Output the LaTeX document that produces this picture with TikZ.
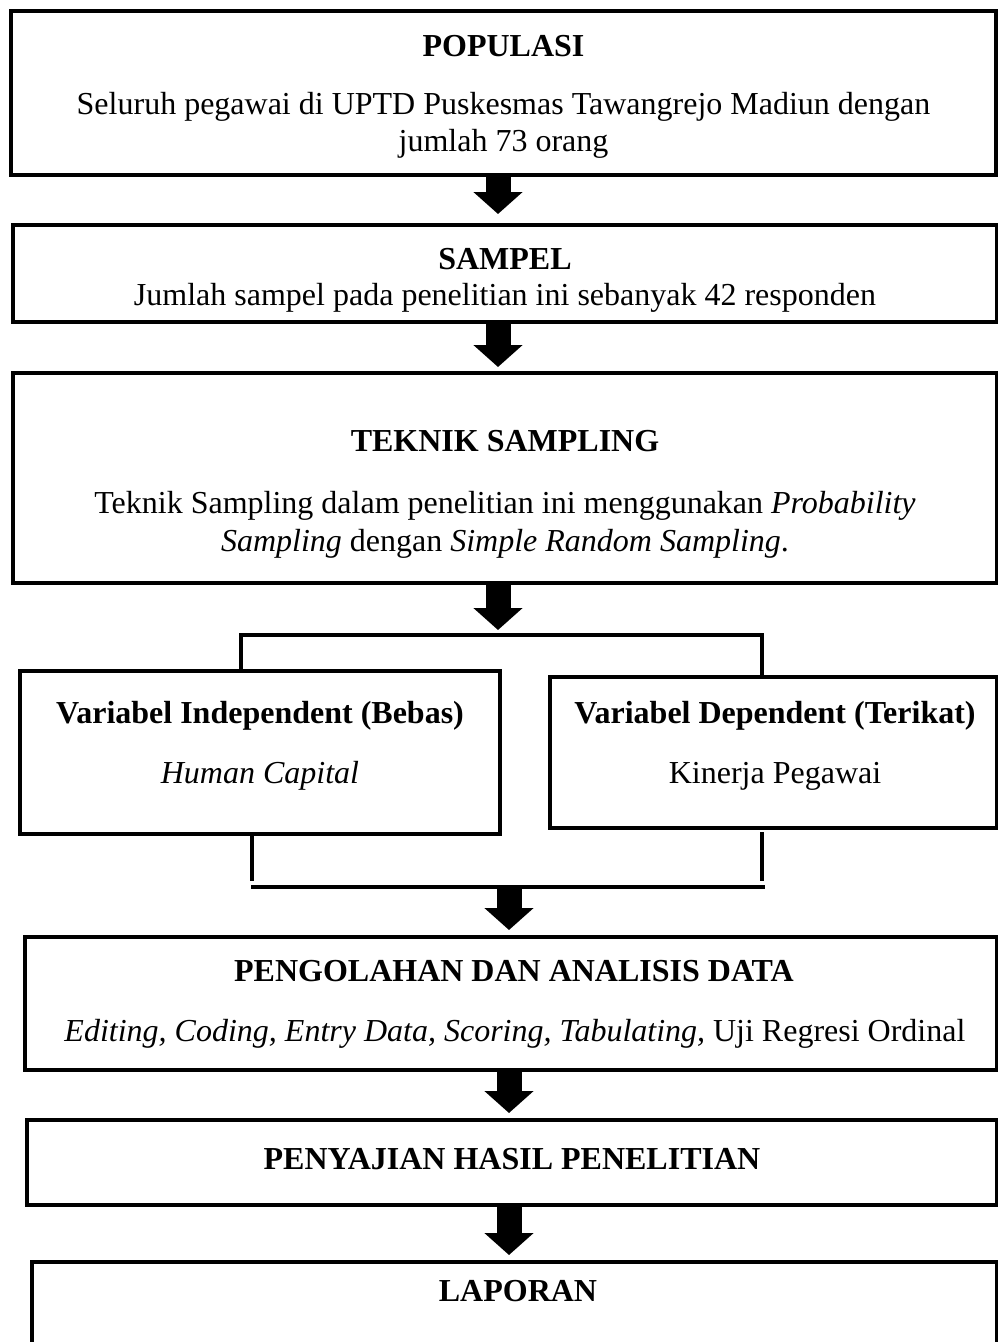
\documentclass[tikz,border=0pt]{standalone}
\usepackage{fontspec}
\setmainfont{Liberation Serif}
\usetikzlibrary{arrows.meta}
\begin{document}
\begin{tikzpicture}[x=1pt,y=-1pt,
  box/.style={draw=black, line width=4pt, inner sep=0pt, outer sep=0pt, fill=none},
  bline/.style={draw=black, line width=3.5pt},
  blockarrow/.style={draw=black, line width=25pt, -{Triangle[width=48pt,length=22pt]}},
  txt/.style={anchor=base, inner sep=0pt, font=\fontsize{32}{37}\selectfont},
  ttl/.style={txt, font=\fontsize{32}{37}\selectfont\bfseries}]
\useasboundingbox (0,0) rectangle (998,1342);
\clip (0,0) rectangle (998,1342);
% boxes
\node[box, minimum width=985pt, minimum height=164pt] (b1) at (503.5,93) {};
\node[box, minimum width=984pt, minimum height=97pt] (b2) at (505,273.5) {};
\node[box, minimum width=984pt, minimum height=210pt] (b3) at (505,478) {};
\node[box, minimum width=480pt, minimum height=163pt] (bl) at (260,752.5) {};
\node[box, minimum width=447pt, minimum height=151pt] (br) at (773.5,752.5) {};
\node[box, minimum width=972pt, minimum height=133pt] (b4) at (511,1003.5) {};
\node[box, minimum width=970pt, minimum height=85pt] (b5) at (512,1162.5) {};
\node[box, minimum width=965pt, minimum height=120pt] (b6) at (514.5,1322) {};
% texts
\node[ttl] (t1a) at (503.5,56) {POPULASI};
\node[txt] (t1b) at (503.5,114) {Seluruh pegawai di UPTD Puskesmas Tawangrejo Madiun dengan};
\node[txt] (t1c) at (503.5,151) {jumlah 73 orang};
\node[ttl] (t2a) at (505,269) {SAMPEL};
\node[txt] (t2b) at (505,305) {Jumlah sampel pada penelitian ini sebanyak 42 responden};
\node[ttl] (t3a) at (505,451) {TEKNIK SAMPLING};
\node[txt] (t3b) at (505,513) {Teknik Sampling dalam penelitian ini menggunakan \textit{Probability}};
\node[txt] (t3c) at (505,551) {\textit{Sampling} dengan \textit{Simple Random Sampling}.};
\node[ttl] (tla) at (260,723) {Variabel Independent (Bebas)};
\node[txt] (tlb) at (260,783) {\textit{Human Capital}};
\node[ttl] (tra) at (775,723) {Variabel Dependent (Terikat)};
\node[txt] (trb) at (775,783) {Kinerja Pegawai};
\node[ttl] (t4a) at (514,981) {PENGOLAHAN DAN ANALISIS DATA};
\node[txt] (t4b) at (515,1041) {\textit{Editing, Coding, Entry Data, Scoring, Tabulating,} Uji Regresi Ordinal};
\node[ttl] (t5a) at (512,1169) {PENYAJIAN HASIL PENELITIAN};
\node[ttl] (t6a) at (518,1301) {LAPORAN};
% helper coordinates
\coordinate (ax1) at (498,0);
\coordinate (ax2) at (509,0);
\coordinate (tl) at (241,635);
\coordinate (tr) at (762,635);
\coordinate (bbl) at (251,887);
\coordinate (bbr) at (765,887);
\coordinate (vl) at (252,0);
\coordinate (vr) at (762,0);
% arrows
\draw[blockarrow] (b1.south -| ax1) -- ([yshift=11pt]b2.north -| ax1);
\draw[blockarrow] (b2.south -| ax1) -- ([yshift=6pt]b3.north -| ax1);
\draw[blockarrow] (b3.south -| ax1) -- ([yshift=5pt]tl -| ax1);
% top bracket
\draw[bline] (bl.north -| tl) |- (tr) -- (br.north -| tr);
% lower bracket
\draw[bline] (bl.south -| vl) -- ([yshift=6pt]bbl -| vl);
\draw[bline] ([yshift=-4pt]br.south -| vr) -- ([yshift=6pt]bbl -| vr);
\draw[draw=black, line width=4.5pt] (bbl) -- (bbr);
\draw[blockarrow] (bbl -| ax2) -- ([yshift=7pt]b4.north -| ax2);
\draw[blockarrow] (b4.south -| ax2) -- ([yshift=7pt]b5.north -| ax2);
\draw[blockarrow] (b5.south -| ax2) -- ([yshift=7pt]b6.north -| ax2);
\end{tikzpicture}
\end{document}
